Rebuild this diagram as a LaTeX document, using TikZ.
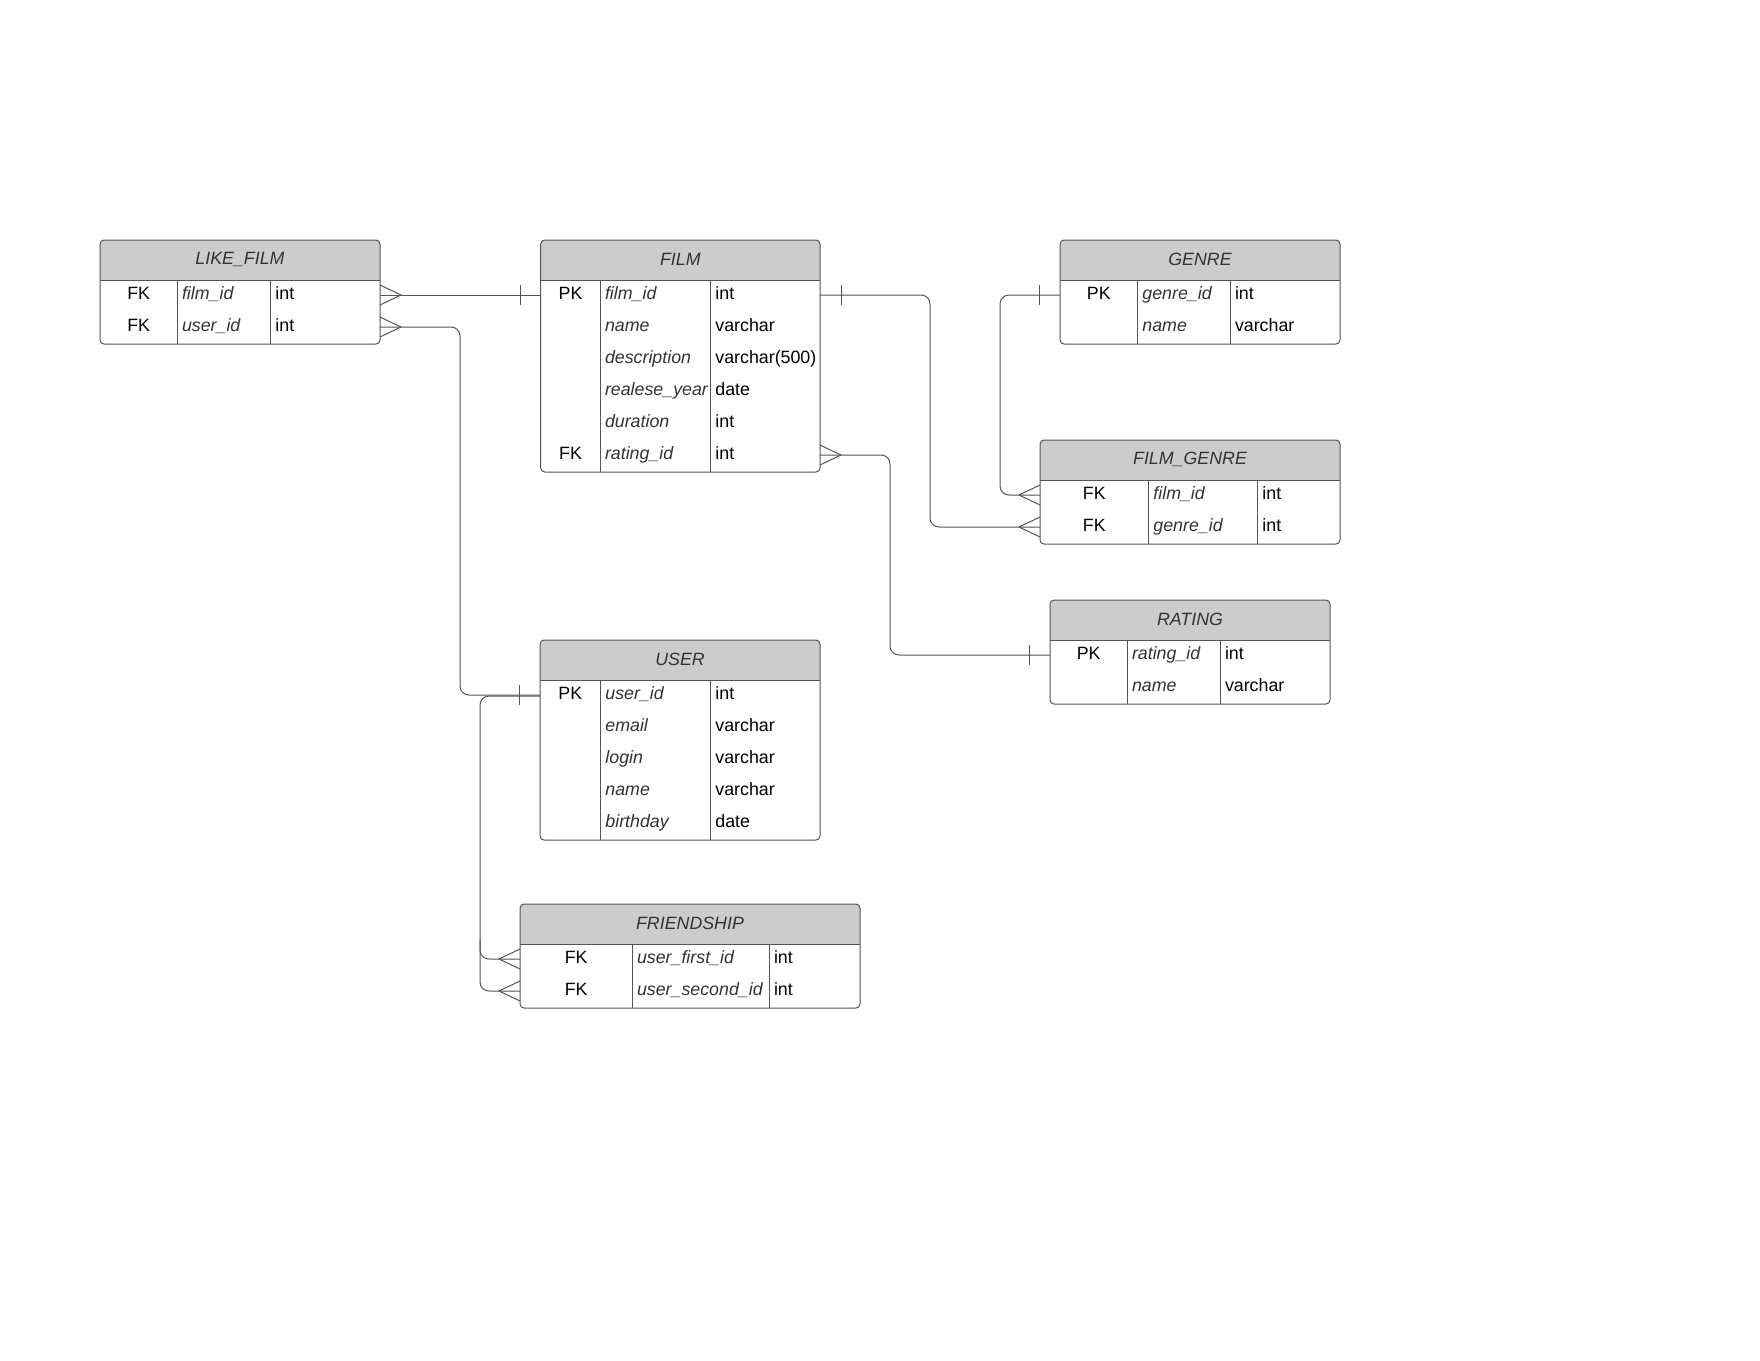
\documentclass[tikz,border=0pt]{standalone}
\usepackage{fontspec}
\setmainfont{Liberation Sans}
\usetikzlibrary{calc}
\definecolor{hdrgray}{HTML}{CCCCCC}
\definecolor{framegray}{HTML}{555555}
\definecolor{linegray}{HTML}{555555}
\definecolor{txtgray}{HTML}{333333}
\tikzset{
  tabframe/.style={draw=framegray, line width=1pt, rounded corners=4pt, inner sep=0pt, outer sep=0pt, rectangle},
  tabline/.style={draw=framegray, line width=1pt},
  hdrfill/.style={fill=hdrgray},
  titletext/.style={font=\fontsize{17.8}{21}\selectfont\itshape, text=txtgray, inner sep=0pt},
  keytext/.style={font=\fontsize{17.8}{21}\selectfont, text=black, inner sep=0pt},
  fieldtext/.style={font=\fontsize{17.8}{21}\selectfont\itshape, text=txtgray, inner sep=0pt, anchor=west},
  typetext/.style={font=\fontsize{17.8}{21}\selectfont, text=black, inner sep=0pt, anchor=west},
  relline/.style={draw=linegray, line width=1pt, rounded corners=9pt},
  footline/.style={draw=linegray, line width=1pt},
}
% #1 name, #2 left, #3 top, #4 col1 x, #5 col2 x, #6 right, #7 title, #8 rows
\newcommand\ertable[8]{%
  \fill[hdrfill] (#2,{#3+40}) [rounded corners=4pt] -- (#2,#3) -- (#6,#3) [sharp corners] -- (#6,{#3+40}) -- cycle;
  \node[tabframe, anchor=north west, minimum width={#6-#2}, minimum height={40+32*#8}] (#1) at (#2,#3) {};
  \draw[tabline] (#2,{#3+40}) -- (#6,{#3+40});
  \draw[tabline] (#4,{#3+40}) -- (#4,{#3+40+32*#8});
  \draw[tabline] (#5,{#3+40}) -- (#5,{#3+40+32*#8});
  \node[titletext] (#1-title) at ({(#2+#6)/2},{#3+19}) {#7};
  \coordinate (#1-kx) at ({(#2+#4)/2},#3);
  \coordinate (#1-c1) at ({#4+4.5},#3);
  \coordinate (#1-c2) at ({#5+4.5},#3);
  \foreach \i in {1,...,#8}{%
    \coordinate (#1-r\i-w) at (#2,{#3+40+15+32*(\i-1)});
    \coordinate (#1-r\i-e) at (#6,{#3+40+15+32*(\i-1)});
  }%
}
% #1 table, #2 row, #3 key, #4 field, #5 type
\newcommand\errow[5]{%
  \node[keytext] (#1-k#2) at (#1-kx |- #1-r#2-w) {\strut #3};
  \node[fieldtext] (#1-f#2) at (#1-c1 |- #1-r#2-w) {\strut #4};
  \node[typetext] (#1-t#2) at (#1-c2 |- #1-r#2-w) {\strut #5};
}
% crow's foot at a point on a box edge; #2 = +1 if the line leaves to the right, -1 to the left
\newcommand\crowfoot[2]{%
  \draw[footline] ($(#1)+(0,-10)$) -- ($(#1)+(#2*21,0)$) -- ($(#1)+(0,10)$);
}
\newcommand\onetick[2]{%
  \draw[footline] ($(#1)+(#2,-10)$) -- ($(#1)+(#2,10)$);
}
\begin{document}
\begin{tikzpicture}[x=1pt,y=-1pt]
\useasboundingbox (0,0) rectangle (1760,1360);
\fill[white] (0,0) rectangle (1760,1360);

\ertable{likefilm}{100}{240}{177.3}{270.7}{380}{LIKE\_FILM}{2}
\errow{likefilm}{1}{FK}{film\_id}{int}
\errow{likefilm}{2}{FK}{user\_id}{int}

\ertable{film}{540.7}{240}{600.3}{710.7}{820}{FILM}{6}
\errow{film}{1}{PK}{film\_id}{int}
\errow{film}{2}{}{name}{varchar}
\errow{film}{3}{}{description}{varchar(500)}
\errow{film}{4}{}{realese\_year}{date}
\errow{film}{5}{}{duration}{int}
\errow{film}{6}{FK}{rating\_id}{int}

\ertable{genre}{1060}{240}{1137.7}{1230.3}{1340}{GENRE}{2}
\errow{genre}{1}{PK}{genre\_id}{int}
\errow{genre}{2}{}{name}{varchar}

\ertable{filmgenre}{1040}{440}{1148.7}{1257.7}{1340}{FILM\_GENRE}{2}
\errow{filmgenre}{1}{FK}{film\_id}{int}
\errow{filmgenre}{2}{FK}{genre\_id}{int}

\ertable{rating}{1050}{600}{1127.3}{1220.3}{1330}{RATING}{2}
\errow{rating}{1}{PK}{rating\_id}{int}
\errow{rating}{2}{}{name}{varchar}

\ertable{user}{540}{640}{600.7}{710.7}{820}{USER}{5}
\errow{user}{1}{PK}{user\_id}{int}
\errow{user}{2}{}{email}{varchar}
\errow{user}{3}{}{login}{varchar}
\errow{user}{4}{}{name}{varchar}
\errow{user}{5}{}{birthday}{date}

\ertable{friendship}{520}{904}{632.3}{769.3}{860}{FRIENDSHIP}{2}
\errow{friendship}{1}{FK}{user\_first\_id}{int}
\errow{friendship}{2}{FK}{user\_second\_id}{int}

% LIKE_FILM.film_id -> FILM.film_id
\draw[relline] (likefilm-r1-e) -- (film-r1-w);
\crowfoot{likefilm-r1-e}{1}
\onetick{film-r1-w}{-20}

% LIKE_FILM.user_id -> USER.user_id
\draw[relline] (likefilm-r2-e) -- ++(80,0) |- (user-r1-w);
\crowfoot{likefilm-r2-e}{1}
\onetick{user-r1-w}{-21}

% USER.user_id -> FRIENDSHIP
\draw[relline] ($(user-r1-w)+(0,1)$) -| (480,940) |- (friendship-r1-w);
\draw[relline] (480,940) |- (friendship-r2-w);
\crowfoot{friendship-r1-w}{-1}
\crowfoot{friendship-r2-w}{-1}

% FILM.film_id -> FILM_GENRE.genre_id row
\draw[relline] (film-r1-e) -| (930,400) |- (filmgenre-r2-w);
\onetick{film-r1-e}{21}
\crowfoot{filmgenre-r2-w}{-1}

% GENRE.genre_id -> FILM_GENRE.film_id row
\draw[relline] (genre-r1-w) -| (1000,400) |- (filmgenre-r1-w);
\onetick{genre-r1-w}{-21}
\crowfoot{filmgenre-r1-w}{-1}

% FILM.rating_id -> RATING.rating_id
\draw[relline] (film-r6-e) -| (890,560) |- (rating-r1-w);
\crowfoot{film-r6-e}{1}
\onetick{rating-r1-w}{-21}
\end{tikzpicture}
\end{document}
